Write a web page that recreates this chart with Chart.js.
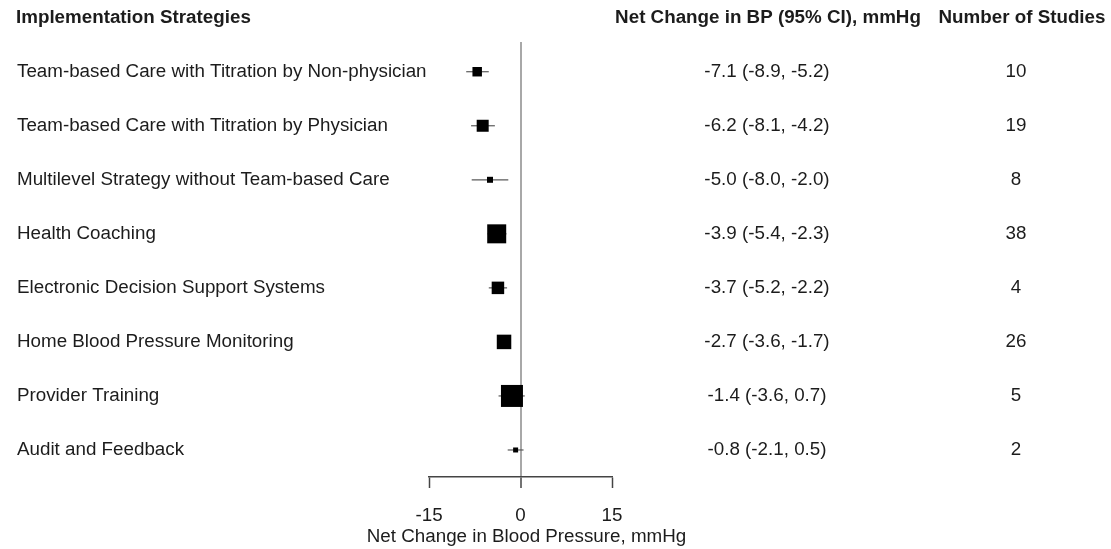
<!DOCTYPE html>
<html>
<head>
<meta charset="utf-8">
<title>Implementation Strategies and Net Change in BP</title>
<script src="https://cdn.jsdelivr.net/npm/chart.js@4/dist/chart.umd.min.js"></script>
<style>
  html, body { margin: 0; padding: 0; background: #ffffff; }
  #wrap { width: 1111px; height: 549px; }
</style>
</head>
<body>
<div id="wrap"><canvas id="forest" width="1111" height="549"></canvas></div>
<script>
// ---- data ----
const strategies = [
  'Team-based Care with Titration by Non-physician',
  'Team-based Care with Titration by Physician',
  'Multilevel Strategy without Team-based Care',
  'Health Coaching',
  'Electronic Decision Support Systems',
  'Home Blood Pressure Monitoring',
  'Provider Training',
  'Audit and Feedback'
];
const estimates = [-7.1, -6.2, -5.0, -3.9, -3.7, -2.7, -1.4, -0.8];
const ciLower   = [-8.9, -8.1, -8.0, -5.4, -5.2, -3.6, -3.6, -2.1];
const ciUpper   = [-5.2, -4.2, -2.0, -2.3, -2.2, -1.7,  0.7,  0.5];
const studyCounts = [10, 19, 8, 38, 4, 26, 5, 2];
const xTicks = [-15, 0, 15];

const headerStrategy = 'Implementation Strategies';
const headerEffect = 'Net Change in BP (95% CI), mmHg';
const headerCount = 'Number of Studies';
const xTitle = 'Net Change in Blood Pressure, mmHg';

// ---- styling ----
const FONT = '"Liberation Sans", Arial, Helvetica, sans-serif';
const FS = 18.8;
const TEXT = '#1c1c1c';
// side length (px) of each pooled-estimate square, proportional to its weight
const boxSide = [9.5, 12, 6, 19, 12.5, 14.5, 22, 5];

const fmt = v => v.toFixed(1);
const effectText = estimates.map((e, i) => `${fmt(e)} (${fmt(ciLower[i])}, ${fmt(ciUpper[i])})`);

const datasets = [{
  type: 'scatter',
  order: 0,
  data: estimates.map((e, i) => ({ x: e, y: i })),
  pointStyle: 'rect',
  pointRadius: boxSide.map(s => s / Math.SQRT2),
  pointBackgroundColor: '#000000',
  pointBorderWidth: 0,
  showLine: false
}];
strategies.forEach((_, i) => {
  datasets.push({
    type: 'line',
    order: 1,
    data: [{ x: ciLower[i], y: i }, { x: ciUpper[i], y: i }],
    borderColor: '#5a5a5a',
    borderWidth: 1.2,
    pointRadius: 0,
    fill: false
  });
});

// text columns drawn alongside the plot, aligned on the y scale rows,
// plus the x-axis title (drawn here so it is not squeezed to the axis width)
const columnsPlugin = {
  id: 'forestColumns',
  afterDraw(chart) {
    const { ctx } = chart;
    const y = chart.scales.y;
    const x = chart.scales.x;
    ctx.save();
    ctx.fillStyle = TEXT;
    ctx.textBaseline = 'middle';

    ctx.font = `bold ${FS}px ${FONT}`;
    ctx.textAlign = 'left';
    ctx.fillText(headerStrategy, 16, 18);
    ctx.textAlign = 'center';
    ctx.fillText(headerEffect, 768, 18);
    ctx.fillText(headerCount, 1022, 18);

    ctx.font = `${FS}px ${FONT}`;
    strategies.forEach((s, i) => {
      const py = y.getPixelForValue(i);
      ctx.textAlign = 'left';
      ctx.fillText(s, 17, py);
      ctx.textAlign = 'center';
      ctx.fillText(effectText[i], 767, py);
      ctx.fillText(String(studyCounts[i]), 1016, py);
    });

    ctx.textAlign = 'center';
    ctx.fillText(xTitle, (x.left + x.right) / 2 + 6, 537);
    ctx.restore();
  }
};

new Chart(document.getElementById('forest'), {
  data: { datasets },
  options: {
    responsive: false,
    animation: false,
    events: [],
    layout: { padding: { left: 429, right: 499, top: 42, bottom: 0 } },
    plugins: { legend: { display: false }, tooltip: { enabled: false } },
    scales: {
      x: {
        type: 'linear',
        min: xTicks[0],
        max: xTicks[xTicks.length - 1],
        afterBuildTicks: scale => { scale.ticks = xTicks.map(v => ({ value: v })); },
        afterFit: scale => { scale.height = 72; },
        border: { display: true, color: '#444444', width: 1.5 },
        grid: {
          drawOnChartArea: true,
          drawTicks: true,
          tickLength: 11,
          tickColor: '#444444',
          tickWidth: 1.5,
          color: c => (c.tick && c.tick.value === 0) ? '#a8a8a8' : 'rgba(0,0,0,0)',
          lineWidth: c => (c.tick && c.tick.value === 0) ? 2 : 1
        },
        ticks: {
          color: TEXT,
          font: { family: FONT, size: FS },
          padding: 17,
          maxRotation: 0,
          autoSkip: false,
          callback: v => String(v)
        },
        title: { display: false }
      },
      y: {
        type: 'linear',
        display: false,
        reverse: true,
        min: -0.55,
        max: 7.5
      }
    }
  },
  plugins: [columnsPlugin]
});
</script>
</body>
</html>
